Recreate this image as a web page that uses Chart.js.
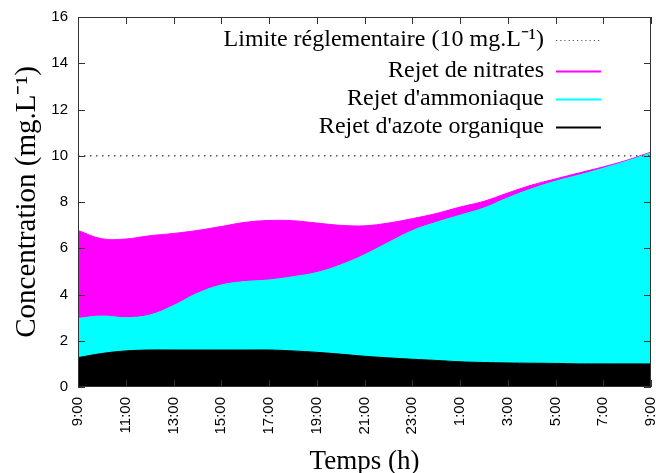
<!DOCTYPE html>
<html><head><meta charset="utf-8">
<script src="https://cdn.jsdelivr.net/npm/chart.js@4/dist/chart.umd.min.js"></script>
<style>html,body{margin:0;padding:0;background:#fff}</style>
</head><body>
<canvas id="c" width="656" height="473"></canvas>
<script>
const hours = ["9:00","10:00","11:00","12:00","13:00","14:00","15:00","16:00","17:00","18:00","19:00","20:00","21:00","22:00","23:00","0:00","1:00","2:00","3:00","4:00","5:00","6:00","7:00","8:00","9:00"];
const organique  = [1.27,1.45,1.56,1.60,1.60,1.60,1.60,1.60,1.60,1.56,1.50,1.42,1.33,1.26,1.20,1.15,1.09,1.06,1.04,1.03,1.02,1.00,1.00,1.00,1.00];
const ammoniaque = [1.70,1.62,1.44,1.51,1.92,2.45,2.81,2.96,3.03,3.21,3.45,3.86,4.39,4.99,5.56,5.97,6.34,6.68,7.14,7.54,7.88,8.17,8.46,8.77,9.13];
const nitrates   = [3.80,3.34,3.40,3.43,3.12,2.72,2.53,2.56,2.57,2.42,2.14,1.71,1.25,0.84,0.52,0.38,0.35,0.29,0.21,0.16,0.10,0.09,0.06,0.04,0.03];
const limite     = [10,10,10,10,10,10,10,10,10,10,10,10,10,10,10,10,10,10,10,10,10,10,10,10,10];
const yTicks = [0,2,4,6,8,10,12,14,16];
const legendOrder = [3,2,1,0];

const serif = "'Liberation Serif', 'Times New Roman', serif";
const sans = "'Liberation Sans', Arial, sans-serif";

const framePlugin = {
  id: 'frame',
  afterDraw(chart) {
    const ctx = chart.ctx;
    const a = chart.chartArea;
    const xs = chart.scales.x, ys = chart.scales.y;
    ctx.save();
    ctx.strokeStyle = '#333';
    ctx.lineWidth = 1;
    ctx.strokeRect(Math.round(a.left) + 0.5, Math.round(a.top) + 0.5, Math.round(a.right - a.left) - 1, Math.round(a.bottom - a.top) - 1);
    const tl = 7;
    ctx.beginPath();
    hours.forEach((h, i) => {
      if (i % 2) return;
      const x = Math.round(xs.getPixelForValue(i)) + 0.5;
      ctx.moveTo(x, a.bottom); ctx.lineTo(x, a.bottom - tl);
      ctx.moveTo(x, a.top); ctx.lineTo(x, a.top + tl);
    });
    yTicks.forEach(v => {
      const y = Math.round(ys.getPixelForValue(v)) + 0.5;
      ctx.moveTo(a.left, y); ctx.lineTo(a.left + tl, y);
      ctx.moveTo(a.right, y); ctx.lineTo(a.right - tl, y);
    });
    ctx.stroke();
    // legend
    const rowsY = [40, 71, 99, 127];
    ctx.font = '24px ' + serif;
    ctx.textAlign = 'right';
    ctx.textBaseline = 'middle';
    legendOrder.forEach((di, k) => {
      const ds = chart.data.datasets[di];
      const y = rowsY[k];
      ctx.fillStyle = '#000';
      ctx.fillText(ds.label, 544, y);
      ctx.beginPath();
      ctx.setLineDash(ds.borderDash ? [1.2, 3] : []);
      ctx.strokeStyle = ds.borderColor;
      ctx.lineWidth = ds.borderDash ? 1.2 : 2;
      ctx.moveTo(556, y + 0.5); ctx.lineTo(601, y + 0.5);
      ctx.stroke();
      ctx.setLineDash([]);
    });
    ctx.restore();
  }
};

const common = {pointRadius: 0, tension: 0.4, borderWidth: 1, stack: 'n'};
new Chart(document.getElementById('c'), {
  type: 'line',
  data: {
    labels: hours,
    datasets: [
      Object.assign({label: "Rejet d'azote organique", data: organique, backgroundColor: '#000000', borderColor: '#000000', fill: 'origin'}, common),
      Object.assign({label: "Rejet d'ammoniaque", data: ammoniaque, backgroundColor: '#00ffff', borderColor: '#00ffff', fill: '-1'}, common),
      Object.assign({label: "Rejet de nitrates", data: nitrates, backgroundColor: '#ff00ff', borderColor: '#ff00ff', fill: '-1'}, common),
      {label: "Limite réglementaire (10 mg.L⁻¹)", data: limite, borderColor: '#555555', borderDash: [1.5, 4.5], borderWidth: 1.5, fill: false, pointRadius: 0, stack: 'limit', order: -1}
    ]
  },
  options: {
    responsive: false,
    animation: false,
    layout: {padding: {top: 17, right: 5, left: 0, bottom: 0}},
    plugins: {legend: {display: false}, tooltip: {enabled: false}},
    scales: {
      x: {
        offset: false,
        grid: {display: false, drawTicks: false},
        border: {display: false},
        ticks: {autoSkip: false, maxRotation: 90, minRotation: 90, padding: 10, color: '#000',
                font: {family: sans, size: 15},
                callback: (v, i) => (i % 2 === 0 ? hours[i] : '')},
        title: {display: true, text: 'Temps (h)', color: '#000', font: {family: serif, size: 27, lineHeight: 1}, padding: {top: 0, bottom: -2}},
        afterFit: s => { s.height = 86; s.paddingLeft = 0; s.paddingRight = 0; }
      },
      y: {
        stacked: true,
        min: 0, max: 16,
        grid: {display: false, drawTicks: false},
        border: {display: false},
        ticks: {stepSize: 2, padding: 10, color: '#000', font: {family: sans, size: 15}},
        title: {display: true, text: 'Concentration (mg.L⁻¹)', color: '#000', font: {family: serif, size: 29, lineHeight: 1}, padding: {top: 13, bottom: 0}},
        afterFit: s => { s.width = 78; s.paddingTop = 0; s.paddingBottom = 0; }
      }
    }
  },
  plugins: [framePlugin]
});
</script>
</body></html>
